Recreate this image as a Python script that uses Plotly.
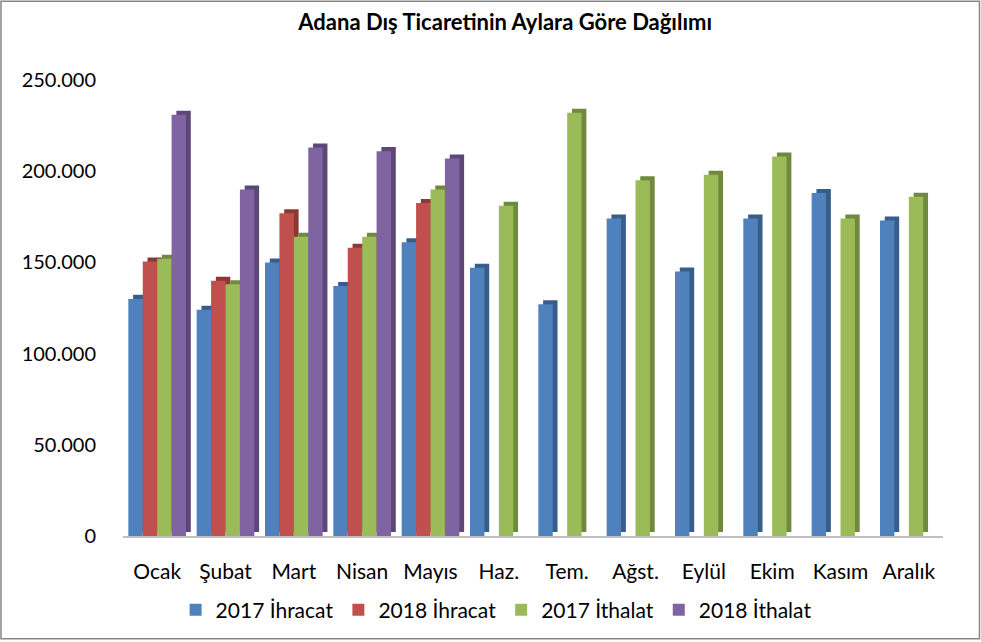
import plotly.graph_objects as go

# aylar ve seriler (ham değer)
months = ["Ocak", "Şubat", "Mart", "Nisan", "Mayıs", "Haz.", "Tem.",
          "Ağst.", "Eylül", "Ekim", "Kasım", "Aralık"]
ihracat_2017 = [130000, 124000, 150000, 137000, 161000, 147000, 127000,
                174000, 145000, 174000, 188000, 173000]
ihracat_2018 = [150500, 140000, 177000, 158000, 182500, None, None,
                None, None, None, None, None]
ithalat_2017 = [152000, 138000, 164000, 164000, 190000, 181000, 232000,
                195000, 198000, 208000, 174000, 186000]
ithalat_2018 = [231000, 190000, 213000, 211000, 207000, None, None,
                None, None, None, None, None]

series = [
    ("2017 İhracat", ihracat_2017, "#4F81BD", "#385D8A"),
    ("2018 İhracat", ihracat_2018, "#C0504D", "#8C3836"),
    ("2017 İthalat", ithalat_2017, "#9BBB59", "#71893F"),
    ("2018 İthalat", ithalat_2018, "#8064A2", "#5C4776"),
]

font = "Lato, 'DejaVu Sans', sans-serif"
bw = 0.211      # bar width in category units
depth_x = 0.07  # fake 3d depth
depth_y = 2200

fig = go.Figure()
for i, (name, vals, col, dark) in enumerate(series):
    off = -2 * bw + i * bw
    # dark "side/top" face drawn behind the front face
    fig.add_trace(go.Bar(
        x=months, y=vals, base=depth_y, width=bw, offset=off + depth_x,
        marker=dict(color=dark, line=dict(width=0)),
        showlegend=False, hoverinfo="skip",
    ))
    fig.add_trace(go.Bar(
        x=months, y=vals, name=name, width=bw, offset=off,
        marker=dict(color=col, line=dict(width=0)),
    ))

fig.update_layout(
    width=981, height=642,
    barmode="overlay",
    separators=",.",
    paper_bgcolor="white", plot_bgcolor="white",
    margin=dict(l=123, r=38, t=80, b=105),
    font=dict(family=font, color="black", size=20),
    title=dict(text="<b>Adana Dış Ticaretinin Aylara Göre Dağılımı</b>",
               x=0.515, xanchor="center", y=0.965, yanchor="middle",
               font=dict(size=22, family=font, color="black")),
    xaxis=dict(showgrid=False, showline=True, linecolor="#BFBFBF",
               linewidth=1.5, ticks="", ticklabelstandoff=16,
               tickfont=dict(size=21), range=[-0.5, 11.5]),
    yaxis=dict(range=[0, 250000], dtick=50000, tickformat=",d",
               showgrid=False, zeroline=False, showline=False,
               ticklabelstandoff=26, tickfont=dict(size=20)),
    legend=dict(orientation="h", x=0.455, xanchor="center", y=-0.16,
                yanchor="middle", font=dict(size=21), traceorder="normal"),
    shapes=[dict(type="rect", xref="paper", yref="paper",
                 x0=-0.1488, x1=1.0445, y0=-0.2254, y1=1.1729,
                 line=dict(color="#868686", width=1.5))],
)

fig.write_html("out.html", config={"displayModeBar": False},
               post_script="document.body.style.margin='0px';")
